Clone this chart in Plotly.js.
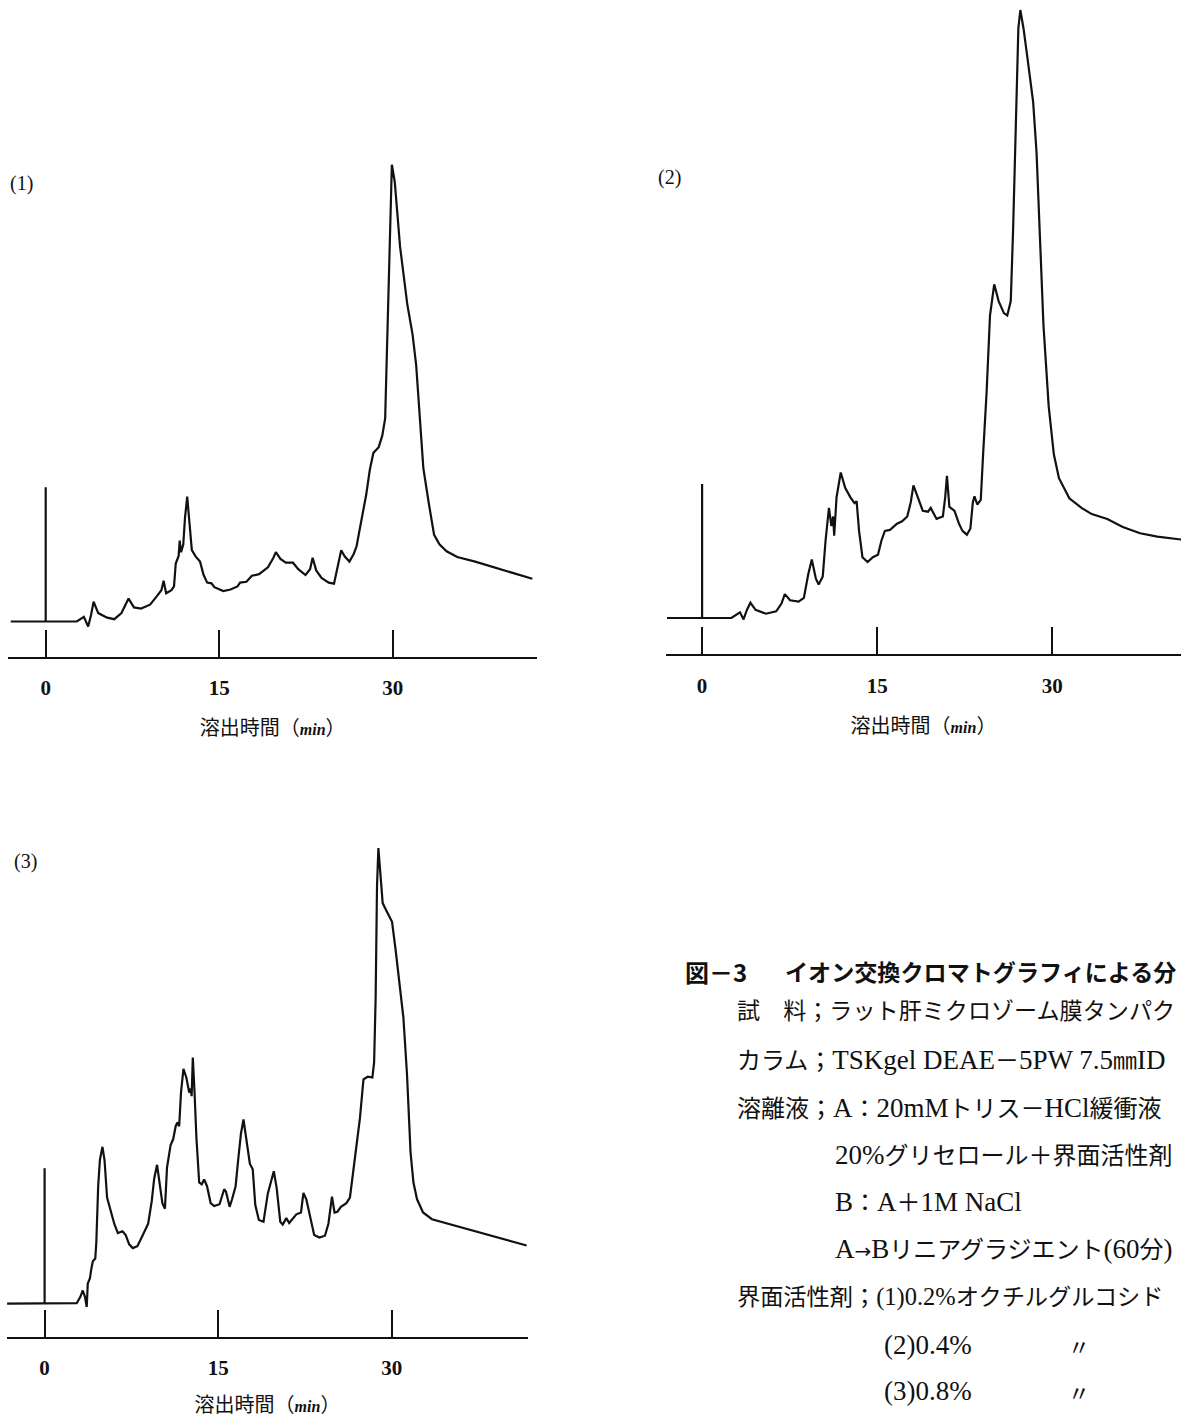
<!DOCTYPE html>
<html>
<head>
<meta charset="utf-8">
<script src="https://cdn.plot.ly/plotly-3.0.1.min.js"></script>
<style>
  html, body { margin: 0; padding: 0; background: #ffffff; }
  #chart { width: 1181px; height: 1418px; }
</style>
</head>
<body>
<div id="chart"></div>
<script>
// ---------------- DATA ----------------
// elution time (min) and detector response (arbitrary units, baseline = 0)
const time1 = [-3.02, 2.69, 3.30, 3.67, 3.92, 4.14, 4.54, 5.31, 5.93, 6.55, 7.16, 7.63, 8.24, 9.02, 9.63, 10.00, 10.19, 10.41, 10.87, 11.09, 11.24, 11.49, 11.58, 11.70, 11.89, 12.04, 12.23, 12.41, 12.63, 12.97, 13.34, 13.65, 13.96, 14.33, 14.58, 15.35, 15.97, 16.58, 16.80, 17.35, 17.82, 18.44, 19.21, 19.68, 19.89, 20.29, 20.75, 21.37, 21.83, 22.45, 22.85, 23.07, 23.38, 23.84, 24.46, 24.92, 25.23, 25.54, 25.85, 26.25, 26.62, 26.87, 27.08, 27.39, 27.70, 28.01, 28.32, 28.78, 29.09, 29.34, 29.55, 29.77, 29.92, 30.17, 30.63, 31.25, 31.71, 32.02, 32.33, 32.64, 33.10, 33.57, 34.03, 34.65, 35.57, 37.12, 42.06];
const signal1 = [0, 0, 4.6, -5, 6.5, 19.8, 8.4, 3.8, 2.3, 8.4, 22.9, 14.1, 13, 16.8, 25.6, 31.3, 40.8, 28.2, 31.3, 35.1, 58, 65.6, 80.9, 69.4, 77, 103.8, 124.8, 103.8, 71.3, 64.9, 59.9, 46.5, 38.9, 38.2, 34.3, 30.5, 32, 35.1, 38.9, 39.7, 45.8, 47.3, 54.2, 63.7, 69.4, 62.6, 58.8, 58.8, 52.3, 46.5, 52.3, 63.7, 51.1, 43.5, 38.9, 37.8, 54.2, 71.3, 64.9, 59.9, 67.5, 75.2, 88.5, 107.6, 126.7, 151.5, 168.6, 174.3, 185.8, 203, 298.3, 412.8, 456.7, 439.5, 374.6, 317.4, 286.9, 256.4, 203, 153.4, 119, 86.6, 77.1, 70.2, 64.5, 59.9, 42.7];

const time2 = [-3.01, 2.51, 3.25, 3.55, 3.84, 4.14, 4.58, 5.47, 6.35, 6.80, 7.09, 7.54, 8.27, 8.72, 9.10, 9.40, 9.75, 9.99, 10.34, 10.58, 10.87, 11.08, 11.23, 11.32, 11.52, 11.88, 12.26, 12.71, 13.06, 13.24, 13.45, 13.74, 14.18, 14.63, 15.07, 15.37, 15.66, 16.10, 16.70, 17.14, 17.58, 17.88, 18.11, 18.47, 18.91, 19.36, 19.59, 20.09, 20.63, 20.83, 20.98, 21.19, 21.63, 22.01, 22.31, 22.69, 22.99, 23.20, 23.34, 23.58, 23.88, 24.08, 24.38, 24.67, 25.03, 25.41, 25.86, 26.15, 26.45, 26.65, 26.89, 27.10, 27.27, 27.54, 27.92, 28.37, 28.66, 28.96, 29.25, 29.70, 30.14, 30.58, 31.47, 32.51, 33.39, 34.72, 36.05, 37.53, 39.01, 41.02, 41.4];
const signal2 = [0, 0, 5.7, -1.4, 8.1, 15.3, 8.1, 4.3, 6.7, 14.4, 23.9, 17.7, 16.3, 20.1, 44, 58.4, 39.3, 33.5, 41.6, 77.5, 110.1, 91.9, 101.5, 82.3, 120.6, 145.5, 130.2, 120.6, 114.9, 116.8, 87.1, 60.8, 56, 60.8, 63.2, 77.5, 87.1, 88.1, 94.3, 96.7, 101.5, 115.8, 132.6, 120.6, 107.2, 106.3, 110.1, 99.1, 101.5, 120.6, 142.2, 111.1, 107.2, 94.3, 87.1, 83.3, 89.5, 115.8, 121.6, 113.5, 118.2, 163.7, 225.9, 302.5, 333.7, 316.9, 304.9, 302.5, 316.9, 388.7, 498.8, 589.8, 608, 589.8, 556.3, 515.6, 465.3, 379.1, 293, 211.6, 163.7, 139.8, 119.7, 110.1, 103.9, 99.1, 91, 84.7, 81.4, 78.5, 78.2];

const time3 = [-3.24, 2.78, 3.09, 3.30, 3.49, 3.64, 3.73, 3.92, 4.04, 4.17, 4.38, 4.47, 4.63, 4.78, 5.00, 5.18, 5.40, 5.71, 6.02, 6.33, 6.73, 7.01, 7.31, 7.62, 8.02, 8.49, 8.95, 9.26, 9.47, 9.72, 9.94, 10.18, 10.40, 10.58, 10.89, 11.11, 11.33, 11.48, 11.63, 11.79, 12.00, 12.25, 12.50, 12.62, 12.71, 12.81, 12.96, 13.12, 13.36, 13.58, 13.79, 14.04, 14.35, 14.66, 15.12, 15.52, 15.68, 15.99, 16.20, 16.51, 16.73, 16.97, 17.19, 17.43, 17.74, 17.99, 18.21, 18.52, 18.92, 19.29, 19.60, 19.81, 20.06, 20.37, 20.58, 20.89, 21.14, 21.45, 21.76, 22.16, 22.37, 22.62, 22.93, 23.30, 23.76, 24.23, 24.53, 24.84, 25.06, 25.31, 25.61, 26.08, 26.39, 26.63, 26.94, 27.25, 27.56, 27.93, 28.33, 28.48, 28.61, 28.73, 28.85, 29.01, 29.22, 29.62, 30.03, 30.34, 30.71, 31.01, 31.32, 31.63, 31.88, 32.19, 32.71, 33.48, 41.66];
const signal3 = [0, 0.4, 6.8, 13.1, 6.8, -3.4, 19.9, 25.5, 34.9, 42.4, 45, 61.1, 117.4, 143.6, 156.8, 143.6, 106.1, 93, 79.9, 70.5, 72.4, 68.6, 59.3, 55.5, 57.4, 68.6, 79.9, 102.4, 124.9, 138.8, 119.3, 100.5, 94.9, 136.1, 158.6, 164.3, 177.4, 181.1, 177.4, 211.1, 234.8, 226.1, 211.1, 214.9, 207.4, 246, 211.1, 166.1, 121.1, 119.3, 124.1, 117.4, 100.5, 97.5, 99.4, 114.4, 111.8, 96.8, 104.3, 117.4, 143.6, 169.9, 184.1, 162.4, 139.9, 134.3, 98.6, 83.6, 81.8, 109.9, 123, 132.4, 115.5, 81.8, 79.1, 85.5, 80.6, 85.5, 89.3, 91.1, 110.6, 104.3, 89.3, 68.6, 66, 67.9, 79.9, 106.9, 91.1, 91.9, 96.8, 100.5, 106.1, 128.6, 154.9, 184.9, 224.3, 226.9, 226.1, 241.1, 304.9, 417.4, 455.6, 428.6, 400.5, 391.1, 381.8, 353.6, 316.1, 286.1, 229.9, 151.1, 121.1, 104.3, 91.1, 84.4, 58.1];

// injection marker (time 0) height in each run
const injectionTime = [0, 0];
const injection1 = [0, 134.3];
const injection2 = [0, 134.0];
const injection3 = [0, 135.4];

// tick labels
const tickValues = [0, 15, 30];
const tickLabels = ['0', '15', '30'];
const panelLabels = ['(1)', '(2)', '(3)'];
const axisTitle = '溶出時間（<span style="font-family:Liberation Serif;font-size:16px"><b><i>min</i></b></span>）';

// caption text
const captionTitleHead = '図－3';
const captionTitleBody = 'イオン交換クロマトグラフィによる分';
const captionLines = [
  '試　料；ラット肝ミクロゾーム膜タンパク',
  'カラム；TSKgel DEAE－5PW 7.5㎜ID',
  '溶離液；A：20mMトリス－HCl緩衝液',
  '20%グリセロール＋界面活性剤',
  'B：A＋1M NaCl',
  'A→Bリニアグラジエント(60分)',
  '界面活性剤；(1)0.2%オクチルグルコシド',
  '(2)0.4%',
  '(3)0.8%'
];
const dittoMark = '〃';

// ---------------- LAYOUT ----------------
const W = 1181, H = 1418;
const px = p => p / W;
const py = p => 1 - p / H;

// panel geometry in pixels
const panels = [
  {left: 7.9, right: 537.4, axisY: 657, top: 150, zeroX: 45.7, perMin: 11.57, baseY: 621.5},
  {left: 666, right: 1181, axisY: 654.3, top: 0, zeroX: 702.1, perMin: 11.67, baseY: 618},
  {left: 7, right: 528, axisY: 1337, top: 830, zeroX: 44.6, perMin: 11.57, baseY: 1303.6}
];

const ink = '#111111';
const series = [[time1, signal1, injection1], [time2, signal2, injection2], [time3, signal3, injection3]];
const traces = [];
series.forEach((s, i) => {
  const ax = i === 0 ? '' : String(i + 1);
  traces.push({x: s[0], y: s[1], type: 'scatter', mode: 'lines', xaxis: 'x' + ax, yaxis: 'y' + ax,
    line: {color: ink, width: 2.2}, hoverinfo: 'skip', showlegend: false});
  traces.push({x: injectionTime, y: s[2], type: 'scatter', mode: 'lines', xaxis: 'x' + ax, yaxis: 'y' + ax,
    line: {color: ink, width: 2.2}, hoverinfo: 'skip', showlegend: false});
});

const layout = {
  width: W, height: H,
  margin: {l: 0, r: 0, t: 0, b: 0, pad: 0},
  paper_bgcolor: '#ffffff', plot_bgcolor: '#ffffff',
  showlegend: false,
  annotations: []
};

panels.forEach((p, i) => {
  const ax = i === 0 ? '' : String(i + 1);
  layout['xaxis' + ax] = {
    domain: [px(p.left), px(p.right)],
    range: [(p.left - p.zeroX) / p.perMin, (p.right - p.zeroX) / p.perMin],
    anchor: 'y' + ax,
    showgrid: false, zeroline: false,
    showline: true, linecolor: ink, linewidth: 2,
    ticks: 'inside', ticklen: 27, tickwidth: 2.2, tickcolor: ink,
    tickmode: 'array', tickvals: tickValues, ticktext: tickLabels,
    ticklabelstandoff: 11,
    tickfont: {family: 'Liberation Serif, serif', size: 21, color: ink, weight: 700},
    title: {text: axisTitle, standoff: 22,
      font: {family: 'Noto Sans CJK JP, sans-serif', size: 20, color: ink}},
    fixedrange: true
  };
  layout['yaxis' + ax] = {
    domain: [py(p.axisY), py(p.top)],
    range: [-(p.axisY - p.baseY), p.baseY - p.top],
    anchor: 'x' + ax,
    visible: false, showgrid: false, zeroline: false, fixedrange: true
  };
});

// panel labels
const labelPos = [[8, 183.5], [656, 177.5], [12, 861]];
panelLabels.forEach((t, i) => {
  layout.annotations.push({text: t, xref: 'paper', yref: 'paper',
    x: px(labelPos[i][0]), y: py(labelPos[i][1]), xanchor: 'left', yanchor: 'middle',
    showarrow: false, font: {family: 'Liberation Serif, serif', size: 20, color: ink}});
});

// caption
const latin = (s, size) => s
  .replace(/[A-Za-z0-9.%() ]+/g, m => '<span style="font-size:' + size + 'px">' + m + '</span>')
  .replace(/→/g, '<span style="font-family:DejaVu Sans;font-size:20px">→</span>');
const capFont = {family: 'Liberation Serif, Noto Sans CJK JP, serif', size: 24, color: ink};
layout.annotations.push({text: captionTitleHead, xref: 'paper', yref: 'paper',
  x: px(683), y: py(971), xanchor: 'left', yanchor: 'middle', showarrow: false,
  font: {family: 'Noto Sans CJK JP, sans-serif', size: 24, color: ink, weight: 700}});
layout.annotations.push({text: captionTitleBody, xref: 'paper', yref: 'paper',
  x: px(783), y: py(971), xanchor: 'left', yanchor: 'middle', showarrow: false,
  font: {family: 'Noto Sans CJK JP, sans-serif', size: 23.1, color: ink, weight: 700}});
const lineX = [735, 735, 735, 833, 833, 833, 735, 882, 882];
const lineY = [1011, 1060, 1108, 1155, 1202, 1249, 1297, 1345, 1391];
const lineSize = [23.1, 24, 24, 24, 24, 24, 23.2, 24, 24];
const latinSize = [23.1, 27, 27, 27, 27, 27, 24.5, 27, 27];
captionLines.forEach((t, i) => {
  layout.annotations.push({text: i === 0 ? t : latin(t, latinSize[i]), xref: 'paper', yref: 'paper',
    x: px(lineX[i]), y: py(lineY[i]), xanchor: 'left', yanchor: 'middle', showarrow: false,
    font: Object.assign({}, capFont, {size: lineSize[i]})});
});
[1345, 1391].forEach(yy => {
  layout.annotations.push({text: dittoMark, xref: 'paper', yref: 'paper',
    x: px(1066), y: py(yy), xanchor: 'left', yanchor: 'middle', showarrow: false,
    font: {family: 'Noto Sans CJK JP, sans-serif', size: 22, color: ink}});
});

Plotly.newPlot('chart', traces, layout, {staticPlot: true, displayModeBar: false});
</script>
</body>
</html>
